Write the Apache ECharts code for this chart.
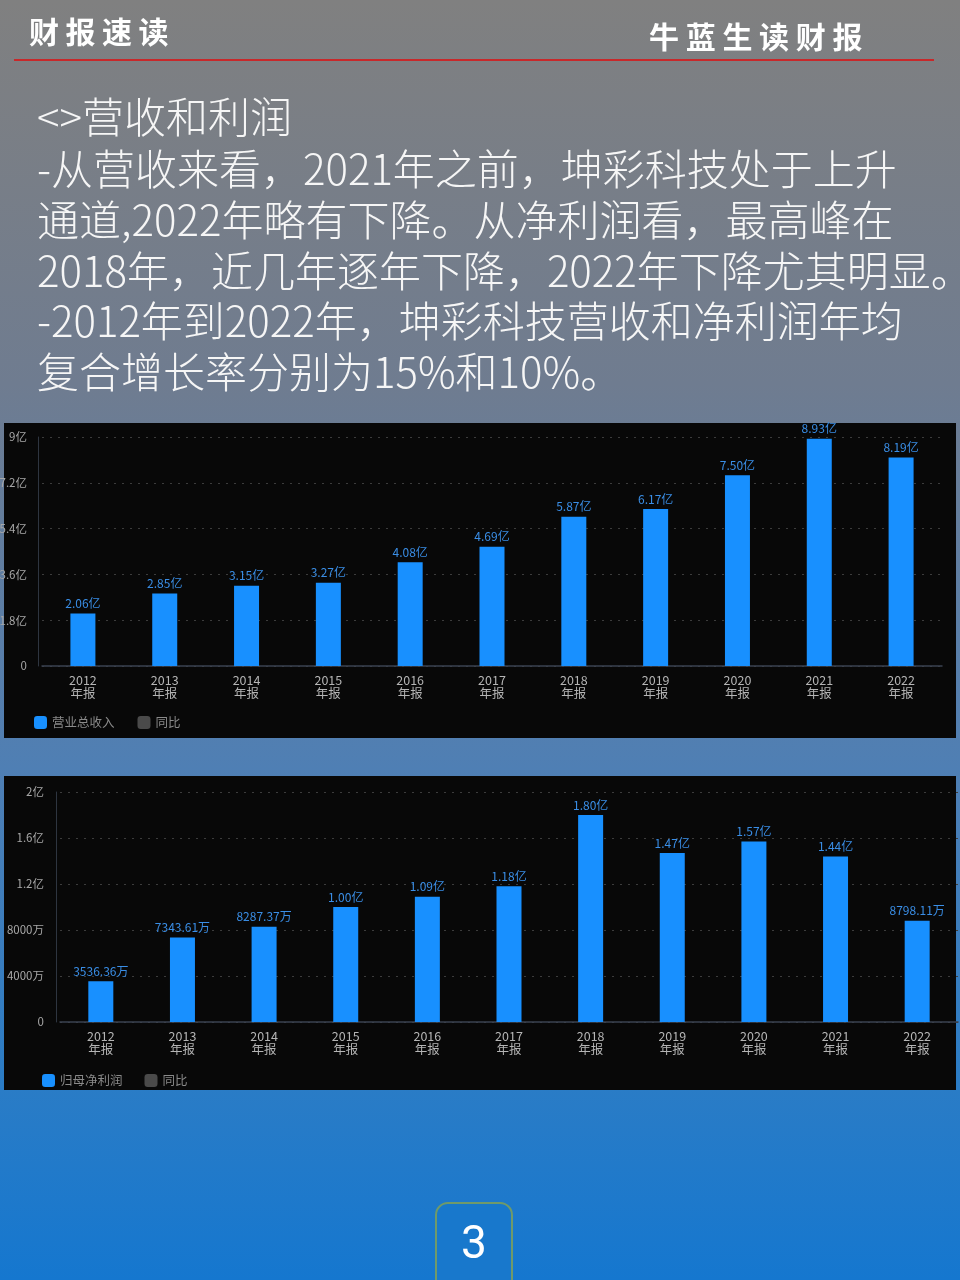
<!DOCTYPE html>
<html>
<head>
<meta charset="utf-8">
<script src="https://cdn.jsdelivr.net/npm/echarts@6/dist/echarts.min.js"></script>
<style>
html,body{margin:0;padding:0;width:960px;height:1280px;overflow:hidden;}
#c{width:960px;height:1280px;}
</style>
</head>
<body>
<div id="c"></div>
<script>
// ---- data ----
const years = ['2012','2013','2014','2015','2016','2017','2018','2019','2020','2021','2022'];
const revenueYi = [2.06, 2.85, 3.15, 3.27, 4.08, 4.69, 5.87, 6.17, 7.50, 8.93, 8.19];          // 营业总收入 (亿)
const profitWan = [3536.36, 7343.61, 8287.37, 10000, 10900, 11800, 18000, 14700, 15700, 14400, 8798.11]; // 归母净利润 (万)
const revAxis = {min: 0, max: 9, interval: 1.8};
const profitAxis = {min: 0, max: 20000, interval: 4000};
const headerLeft = '财报速读';
const headerRight = '牛蓝生读财报';
const paragraph = [
  '<>营收和利润',
  '-从营收来看，2021年之前，坤彩科技处于上升',
  '通道,2022年略有下降。从净利润看，最高峰在',
  '2018年，近几年逐年下降，2022年下降尤其明显。',
  '-2012年到2022年，坤彩科技营收和净利润年均',
  '复合增长率分别为15%和10%。'
];
const pageNo = '3';

const FONT = '"Noto Sans CJK SC", "Noto Sans", sans-serif';
const chart = echarts.init(document.getElementById('c'), null, {renderer: 'canvas'});

const graphic = [];
// panels
graphic.push({type:'rect', z:-10, shape:{x:4, y:423, width:952, height:315}, style:{fill:'#080808'}});
graphic.push({type:'rect', z:-10, shape:{x:4, y:776, width:952, height:314}, style:{fill:'#080808'}});
// header
headerLeft.split('').forEach((ch, i) => {
  graphic.push({type:'text', x:29 + i*36.5, y:32, style:{text:ch, fill:'#ffffff', fontSize:30, fontWeight:'bold', fontFamily:FONT, verticalAlign:'middle'}});
});
headerRight.split('').forEach((ch, i) => {
  graphic.push({type:'text', x:649 + i*36.7, y:37, style:{text:ch, fill:'#ffffff', fontSize:30, fontWeight:'bold', fontFamily:FONT, verticalAlign:'middle'}});
});
graphic.push({type:'line', shape:{x1:14, y1:60, x2:934, y2:60}, style:{stroke:'#c8282a', lineWidth:2}});
// paragraph
const lineY = [117, 169, 220, 271, 321, 372];
paragraph.forEach((t, i) => {
  graphic.push({type:'text', x:37, y:lineY[i], style:{text:t, fill:'#f6f6f6', fontSize:42, fontWeight:300, fontFamily:FONT, verticalAlign:'middle'}});
});
// page number
graphic.push({type:'rect', shape:{x:436, y:1203, width:76, height:95, r:12}, style:{fill:'#1878cc', stroke:'#6f9a6a', lineWidth:2}});
graphic.push({type:'text', x:474, y:1246, style:{text:pageNo, fill:'#ffffff', fontSize:46, fontFamily:'Roboto, "Liberation Sans", sans-serif', align:'center', verticalAlign:'middle'}});

function xAxisCfg(gi){
  return {
    type:'category', gridIndex:gi, data: years.map(y => y + '\n年报'),
    axisLine:{show:true, lineStyle:{color:'#3a4250', width:1.5}},
    axisTick:{show:false},
    axisLabel:{color:'#b5b5b5', fontSize:12.5, lineHeight:13, margin:8, fontFamily:FONT, interval:0}
  };
}
function yAxisCfg(gi, ax, fmt, margin){
  return {
    type:'value', gridIndex:gi, min:ax.min, max:ax.max, interval:ax.interval, offset:4,
    axisLine:{show:true, lineStyle:{color:'#2e3540'}},
    axisTick:{show:false},
    axisLabel:{color:'#a8a8a8', fontSize:11.5, margin:margin, fontFamily:FONT, formatter:fmt},
    splitLine:{show:true, lineStyle:{color:'#3c3c3c', type:[2,6]}}
  };
}
const revFmt = v => v === 0 ? '0' : parseFloat(v.toFixed(1)) + '亿';
const profFmt = v => v === 0 ? '0' : (v >= 10000 ? parseFloat((v/10000).toFixed(1)) + '亿' : v + '万');
const profLabel = v => v >= 10000 ? (v/10000).toFixed(2) + '亿' : v.toFixed(2) + '万';

const option = {
  animation:false,
  backgroundColor:{type:'linear', x:0, y:0, x2:0, y2:1, colorStops:[
    {offset:0, color:'#808080'},
    {offset:0.3, color:'#6f7c90'},
    {offset:0.6, color:'#4f7fb4'},
    {offset:0.85, color:'#2a7cc6'},
    {offset:1, color:'#1577cf'}
  ]},
  graphic: graphic,
  legend:[
    {left:29, top:711, data:['营业总收入','同比'], icon:'roundRect', itemWidth:13, itemHeight:13, itemGap:23,
     textStyle:{color:'#8a8a8a', fontSize:12.5, fontFamily:FONT}, selectedMode:false},
    {left:37, top:1069, data:['归母净利润','同比'], icon:'roundRect', itemWidth:13, itemHeight:13, itemGap:22,
     textStyle:{color:'#8a8a8a', fontSize:12.5, fontFamily:FONT}, selectedMode:false}
  ],
  grid:[
    {left:42, top:437, width:900, height:229, outerBoundsMode:'none', containLabel:false},
    {left:60, top:792, width:898, height:230, outerBoundsMode:'none', containLabel:false}
  ],
  xAxis:[xAxisCfg(0), xAxisCfg(1)],
  yAxis:[yAxisCfg(0, revAxis, revFmt, 11), yAxisCfg(1, profitAxis, profFmt, 12)],
  series:[
    {name:'营业总收入', type:'bar', xAxisIndex:0, yAxisIndex:0, data:revenueYi, barWidth:25,
     itemStyle:{color:'#1890ff'},
     label:{show:true, position:'top', distance:4, color:'#3a8ee6', fontSize:12, fontFamily:FONT, formatter:p => p.value.toFixed(2) + '亿'}},
    {name:'同比', type:'line', xAxisIndex:0, yAxisIndex:0, data:[], itemStyle:{color:'#4a4a4a'}},
    {name:'归母净利润', type:'bar', xAxisIndex:1, yAxisIndex:1, data:profitWan, barWidth:25,
     itemStyle:{color:'#1890ff'},
     label:{show:true, position:'top', distance:4, color:'#3a8ee6', fontSize:12, fontFamily:FONT, formatter:p => profLabel(p.value)}},
    {name:'同比', type:'line', xAxisIndex:1, yAxisIndex:1, data:[], itemStyle:{color:'#4a4a4a'}}
  ]
};
chart.setOption(option);
</script>
</body>
</html>
